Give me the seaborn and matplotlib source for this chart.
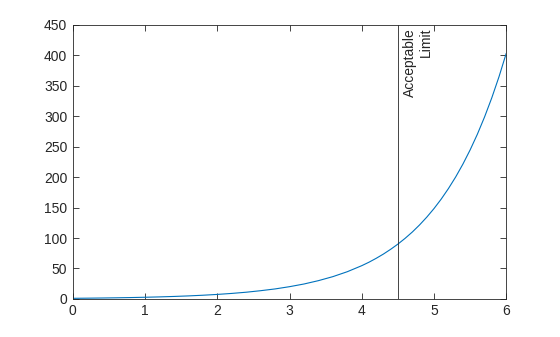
import matplotlib
matplotlib.use("Agg")
import matplotlib.pyplot as plt
import seaborn as sns
import pandas as pd

x_vals = [0.0, 0.2, 0.4, 0.6, 0.8, 1.0, 1.2, 1.4, 1.6, 1.8, 2.0, 2.2, 2.4, 2.6, 2.8,
          3.0, 3.2, 3.4, 3.6, 3.8, 4.0, 4.1, 4.2, 4.3, 4.4, 4.5, 4.6, 4.7, 4.8, 4.9,
          5.0, 5.1, 5.2, 5.3, 5.4, 5.5, 5.6, 5.7, 5.8, 5.9, 6.0]
y_vals = [1.0, 1.22, 1.49, 1.82, 2.23, 2.72, 3.32, 4.06, 4.95, 6.05, 7.39, 9.03, 11.0,
          13.5, 16.4, 20.1, 24.5, 30.0, 36.6, 44.7, 54.6, 60.3, 66.7, 73.7, 81.5, 90.0,
          99.5, 109.9, 121.5, 134.3, 148.4, 164.0, 181.3, 200.3, 221.4, 244.7, 270.4,
          298.9, 330.3, 365.0, 403.4]
limit_x = 4.5
limit_label = "Acceptable\nLimit"
x_ticks = [0, 1, 2, 3, 4, 5, 6]
y_ticks = [0, 50, 100, 150, 200, 250, 300, 350, 400, 450]

sns.set_style("white")
plt.rcParams['font.family'] = ['Liberation Sans', 'DejaVu Sans']

df = pd.DataFrame({"x": x_vals, "y": y_vals})
fig = plt.figure(figsize=(5.6, 3.37), dpi=100)
ax = fig.add_axes([0.130, 0.113, 0.774, 0.813])
sns.lineplot(data=df, x="x", y="y", ax=ax, color="#0072BD", linewidth=0.8)
ax.axvline(limit_x, color="#262626", linewidth=0.6)
ax.text(limit_x + 0.075, 445, limit_label, rotation=90, ha="left", va="top",
        multialignment="right", fontsize=10, color="#262626", linespacing=1.1)
ax.set_xlim(0, 6)
ax.set_ylim(0, 450)
ax.set_xticks(x_ticks)
ax.set_yticks(y_ticks)
ax.set_xlabel("")
ax.set_ylabel("")
ax.tick_params(direction="in", length=4, width=0.6, labelsize=10, colors="#262626",
               top=True, right=True, bottom=True, left=True, pad=4)
for s in ax.spines.values():
    s.set_color("#262626")
    s.set_linewidth(0.6)
fig.savefig("out.png", dpi=100)
